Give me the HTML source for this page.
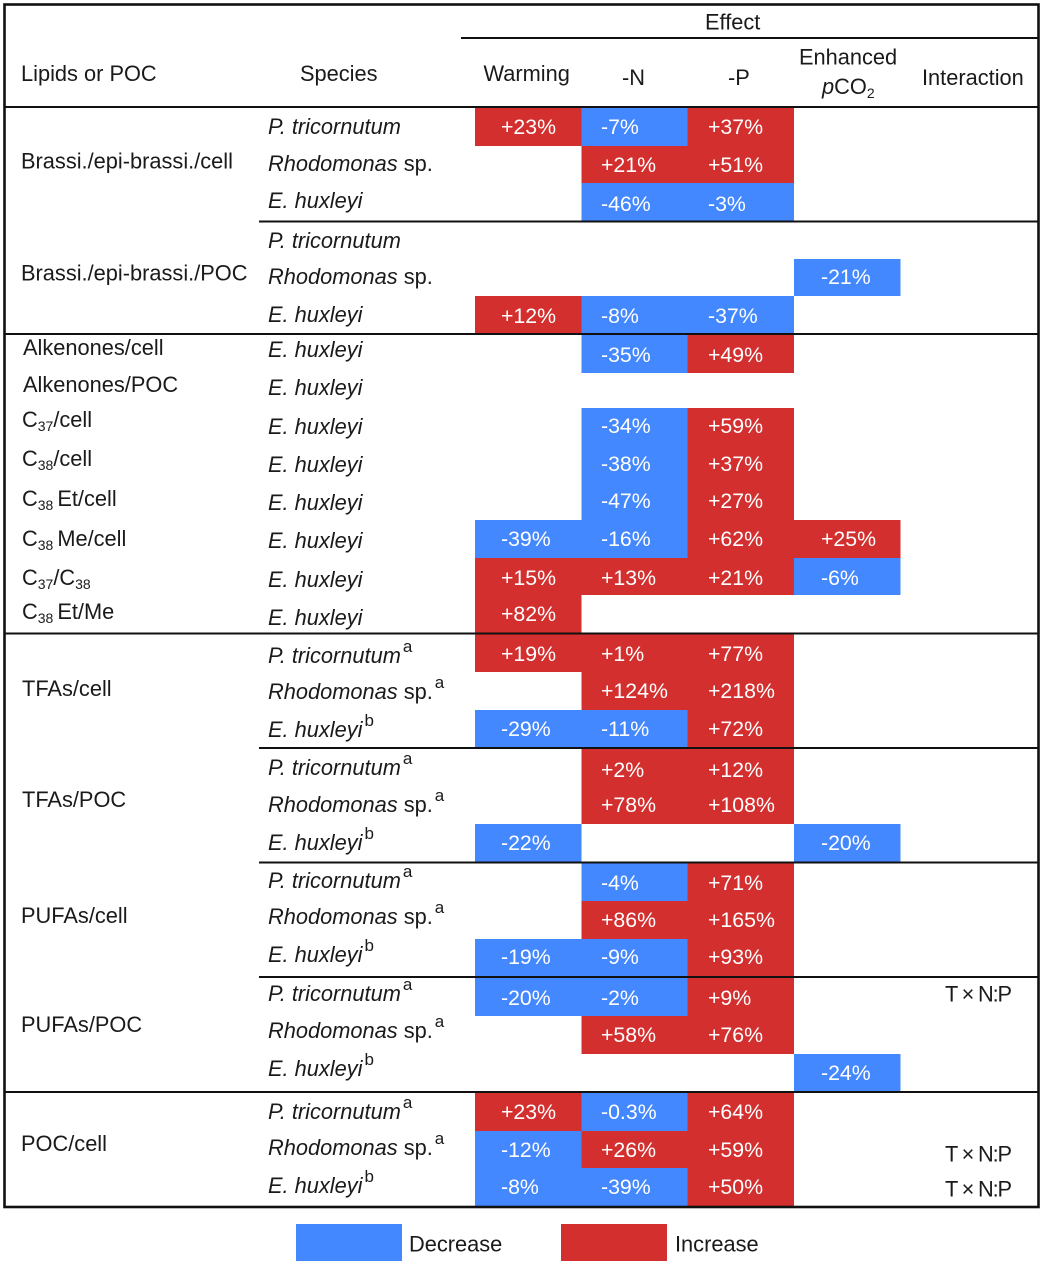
<!DOCTYPE html>
<html lang="en">
<head>
<meta charset="utf-8">
<title>Effects on lipids and POC</title>
<style>
html,body{margin:0;padding:0;background:#fff;width:1044px;height:1264px;overflow:hidden}
svg{display:block}
text{font-family:"Liberation Sans",sans-serif;font-size:21.8px;fill:#1a1a1a}
.val{fill:#fff;font-size:21.3px}
.rule{stroke:#111;stroke-width:2}
</style>
</head>
<body>
<svg id="chart" xmlns="http://www.w3.org/2000/svg" width="1044" height="1264" viewBox="0 0 1044 1264">
  <rect width="1044" height="1264" fill="#fff"/>
  <g id="cells"></g>
  <g id="species"></g>
  <g class="rules">
    <rect x="4.5" y="4.5" width="1034" height="1202.5" fill="none" stroke="#111" stroke-width="2.6"/>
    <line class="rule" x1="461" x2="1038" y1="38" y2="38"/>
    <line class="rule" x1="4" x2="1038" y1="107" y2="107"/>
    <line class="rule" x1="259" x2="1038" y1="221.500" y2="221.500"/>
    <line class="rule" x1="4" x2="1038" y1="334" y2="334"/>
    <line class="rule" x1="4" x2="1038" y1="633.500" y2="633.500"/>
    <line class="rule" x1="259" x2="1038" y1="748" y2="748"/>
    <line class="rule" x1="259" x2="1038" y1="862.500" y2="862.500"/>
    <line class="rule" x1="259" x2="1038" y1="977" y2="977"/>
    <line class="rule" x1="4" x2="1038" y1="1092" y2="1092"/>
  </g>
  <g>
    <text x="705" y="29.500">Effect</text>
    <text x="21" y="81">Lipids or POC</text>
    <text x="300" y="81">Species</text>
    <text x="483.500" y="81">Warming</text>
    <text x="622" y="85">-N</text>
    <text x="728" y="85">-P</text>
    <text x="799" y="64.500">Enhanced</text>
    <text x="822" y="94"><tspan font-style="italic">p</tspan>CO<tspan font-size="14" dy="4">2</tspan></text>
    <text x="922" y="85">Interaction</text>
  </g>
  <g>
    <text x="21" y="168.500">Brassi./epi-brassi./cell</text>
    <text x="21" y="280.500">Brassi./epi-brassi./POC</text>
    <text x="23" y="355">Alkenones/cell</text>
    <text x="23" y="392">Alkenones/POC</text>
    <text x="22" y="427">C<tspan font-size="14" dy="4">37</tspan><tspan dy="-4">/cell</tspan></text>
    <text x="22" y="466">C<tspan font-size="14" dy="4">38</tspan><tspan dy="-4">/cell</tspan></text>
    <text x="22" y="506">C<tspan font-size="14" dy="4">38</tspan><tspan dy="-4" dx="4">Et/cell</tspan></text>
    <text x="22" y="546">C<tspan font-size="14" dy="4">38</tspan><tspan dy="-4" dx="4">Me/cell</tspan></text>
    <text x="22" y="585">C<tspan font-size="14" dy="4">37</tspan><tspan dy="-4">/C</tspan><tspan font-size="14" dy="4">38</tspan></text>
    <text x="22" y="619">C<tspan font-size="14" dy="4">38</tspan><tspan dy="-4" dx="4">Et/Me</tspan></text>
    <text x="22" y="696">TFAs/cell</text>
    <text x="22" y="807">TFAs/POC</text>
    <text x="21" y="923">PUFAs/cell</text>
    <text x="21" y="1032">PUFAs/POC</text>
    <text x="21" y="1151">POC/cell</text>
  </g>
  <g>
    <text x="945" y="1001.500" textLength="67" lengthAdjust="spacing">T × N:P</text>
    <text x="945" y="1161.500" textLength="67" lengthAdjust="spacing">T × N:P</text>
    <text x="945" y="1196.500" textLength="67" lengthAdjust="spacing">T × N:P</text>
  </g>
  <g>
    <rect x="296" y="1224" width="106" height="37" fill="#4488ff"/>
    <text x="409" y="1251.500">Decrease</text>
    <rect x="561" y="1224" width="106" height="37" fill="#d32f2f"/>
    <text x="675" y="1251.500">Increase</text>
  </g>
</svg>
<script>
// Row labels: species code and footnote marker
const speciesCodes = ["P","R","E","P","R","E","E","E","E","E","E","E","E","E","P","R","E","P","R","E","P","R","E","P","R","E","P","R","E"];
const footnotes = ["","","","","","","","","","","","","","","a","a","b","a","a","b","a","a","b","a","a","b","a","a","b"];

// Percent change per row and treatment (null = no significant effect)
const warming = [23,null,null,null,null,12,null,null,null,null,null,-39,15,82,19,null,-29,null,null,-22,null,null,-19,-20,null,null,23,-12,-8];
const minusN = [-7,21,-46,null,null,-8,-35,null,-34,-38,-47,-16,13,null,1,124,-11,2,78,null,-4,86,-9,-2,58,null,-0.3,26,-39];
const minusP = [37,51,-3,null,null,-37,49,null,59,37,27,62,21,null,77,218,72,12,108,null,71,165,93,9,76,null,64,59,50];
const enhancedCO2 = [null,null,null,null,-21,null,null,null,null,null,null,25,-6,null,null,null,null,null,null,-20,null,null,null,null,null,-24,null,null,null];

const seriesList = [warming, minusN, minusP, enhancedCO2];
const seriesKeys = ["warming","minus-n","minus-p","enhanced-co2"];

const SVG_NS = "http://www.w3.org/2000/svg";
const DECREASE = "#4488ff";
const INCREASE = "#d32f2f";

function columnLeft(c){ return 475 + c * 106.33; }
function columnTextX(c){ return [501, 601, 708, 821][c]; }
function rowTop(r){
  const edges = [108,146,183,222,259,296,335,373,408,445,483,520,558,595,634,672,710,749,787,824,863,901,939,978,1016,1054,1093,1131,1168,1207];
  return edges[r];
}
function valueBaseline(r){
  const base = [134,172,211,248,284,323,362,395,433,471,508,546,585,621,661,698,736,777,812,850,890,927,964,1005,1042,1080,1119,1157,1194];
  return base[r];
}
function speciesBaseline(r){
  const base = [134,171,208,248,284,322,357,395,434,472,510,548,587,625,663,699,737,775,812,850,888,924,962,1001,1038,1076,1119,1155,1193];
  return base[r];
}
function formatValue(v){ return (v > 0 ? "+" : "") + v + "%"; }

const cellsGroup = document.getElementById("cells");
const speciesGroup = document.getElementById("species");

seriesList.forEach(function(series, c){
  series.forEach(function(v, r){
    if (v === null) return;
    const rect = document.createElementNS(SVG_NS, "rect");
    rect.setAttribute("x", columnLeft(c));
    rect.setAttribute("y", rowTop(r));
    rect.setAttribute("width", 106.33);
    rect.setAttribute("height", rowTop(r + 1) - rowTop(r));
    rect.setAttribute("fill", v < 0 ? DECREASE : INCREASE);
    rect.setAttribute("shape-rendering", "crispEdges");
    
    
    cellsGroup.appendChild(rect);

    const label = document.createElementNS(SVG_NS, "text");
    label.setAttribute("class", "val");
    label.setAttribute("x", columnTextX(c));
    label.setAttribute("y", valueBaseline(r));
    label.textContent = formatValue(v);
    
    
    cellsGroup.appendChild(label);
  });
});

function addSpan(parent, content, italic, size, dy, dx){
  const span = document.createElementNS(SVG_NS, "tspan");
  span.textContent = content;
  if (italic) span.setAttribute("font-style", "italic");
  if (size) span.setAttribute("font-size", size);
  if (dy) span.setAttribute("dy", dy);
  if (dx) span.setAttribute("dx", dx);
  parent.appendChild(span);
}

speciesCodes.forEach(function(code, r){
  const t = document.createElementNS(SVG_NS, "text");
  t.setAttribute("x", 268);
  t.setAttribute("y", speciesBaseline(r));
  
  
  if (code === "P") addSpan(t, "P. tricornutum", true);
  if (code === "E") addSpan(t, "E. huxleyi", true);
  if (code === "R") { addSpan(t, "Rhodomonas", true); addSpan(t, " sp.", false); }
  if (footnotes[r]) addSpan(t, footnotes[r], false, 17, -11, 2);
  speciesGroup.appendChild(t);
});
</script>
</body>
</html>
